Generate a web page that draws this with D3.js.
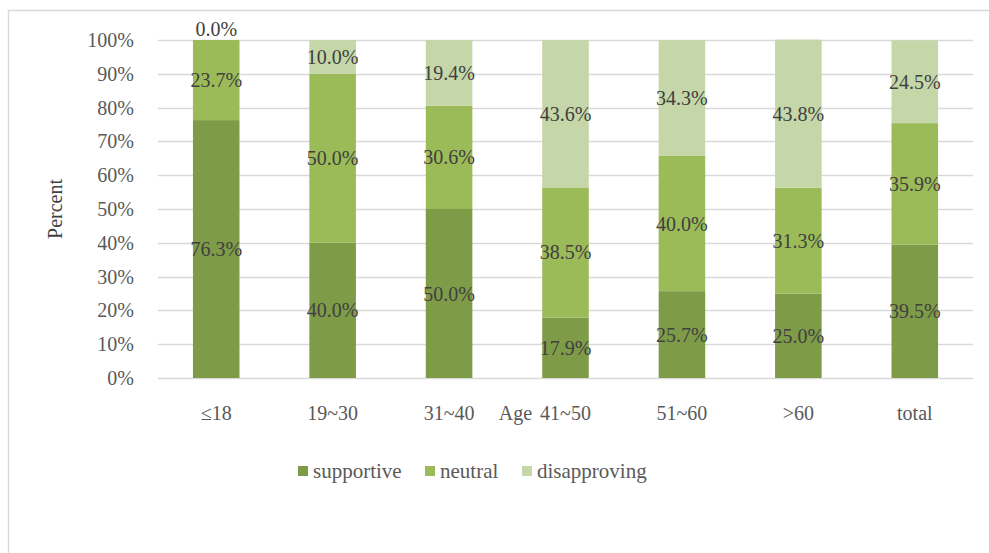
<!DOCTYPE html>
<html>
<head>
<meta charset="utf-8">
<script src="https://cdn.jsdelivr.net/npm/d3@7/dist/d3.min.js"></script>
<style>
  html, body { margin: 0; padding: 0; background: #fff; }
  svg { display: block; }
  svg text { font-family: "Liberation Serif", "Times New Roman", serif; }
</style>
</head>
<body>
<svg id="chart" width="989" height="553"></svg>
<script>
// Attitude by age group (percent of respondents)
const categories = ["\u226418", "19~30", "31~40", "41~50", "51~60", ">60", "total"];
const seriesNames = ["supportive", "neutral", "disapproving"];
const supportive   = [76.3, 40.0, 50.0, 17.9, 25.7, 25.0, 39.5];
const neutral      = [23.7, 50.0, 30.6, 38.5, 40.0, 31.3, 35.9];
const disapproving = [0.0, 10.0, 19.4, 43.6, 34.3, 43.8, 24.5];
const yTicks = [0, 10, 20, 30, 40, 50, 60, 70, 80, 90, 100];
const colors = ["#7e9b48", "#9bbb59", "#c5d7a8"];

const svg = d3.select("#chart");
const W = 989, H = 553;
const margin = { left: 158, right: 16, top: 40, bottom: 175 };
const plotW = W - margin.left - margin.right;
const plotH = H - margin.top - margin.bottom;
const FS = 20;

// outer chart frame (extends past the right and bottom edges)
svg.append("rect")
  .attr("x", 8.5).attr("y", 10.5)
  .attr("width", 1000).attr("height", 560)
  .attr("fill", "none").attr("stroke", "#d9d9d9").attr("stroke-width", 1.5);

const g = svg.append("g").attr("transform", `translate(${margin.left},${margin.top})`);

const x = d3.scaleBand().domain(categories).range([0, plotW]).paddingInner(0.6).paddingOuter(0.3);
const y = d3.scaleLinear().domain([0, 100]).range([plotH, 0]);

// gridlines
g.append("g").selectAll("line").data(yTicks).join("line")
  .attr("x1", 0).attr("x2", plotW)
  .attr("y1", d => Math.round(y(d)) + 0.5).attr("y2", d => Math.round(y(d)) + 0.5)
  .attr("stroke", "#d9d9d9").attr("stroke-width", 1.3);

// y axis labels
const yAxis = d3.axisLeft(y).tickValues(yTicks).tickFormat(d => d + "%").tickSize(0).tickPadding(24);
g.append("g").call(yAxis)
  .attr("font-family", null).attr("font-size", null)
  .call(a => a.select(".domain").remove())
  .selectAll("text")
  .attr("font-size", FS).attr("fill", "#595959");

// x axis labels
const xPad = 28;
const xAxis = d3.axisBottom(x).tickSize(0).tickPadding(xPad);
g.append("g").attr("transform", `translate(0,${plotH})`).call(xAxis)
  .attr("font-family", null).attr("font-size", null)
  .call(a => a.select(".domain").remove())
  .selectAll("text")
  .attr("font-size", FS).attr("fill", "#595959");

// x axis title
g.append("text")
  .attr("x", x("41~50") + x.bandwidth() / 2 - 50)
  .attr("y", plotH + xPad)
  .attr("dy", "0.71em")
  .attr("text-anchor", "middle")
  .attr("font-size", FS).attr("fill", "#595959")
  .text("Age");

// y axis title
svg.append("text")
  .attr("transform", `translate(62,${margin.top + plotH / 2}) rotate(-90)`)
  .attr("text-anchor", "middle")
  .attr("font-size", FS).attr("fill", "#404040")
  .text("Percent");

// stacked data
const rows = categories.map((c, i) => ({
  cat: c,
  supportive: supportive[i],
  neutral: neutral[i],
  disapproving: disapproving[i]
}));
const stacked = d3.stack().keys(seriesNames)(rows);

const layers = g.append("g").selectAll("g").data(stacked).join("g")
  .attr("fill", (d, i) => colors[i]);

layers.selectAll("rect").data(d => d).join("rect")
  .attr("x", d => x(d.data.cat))
  .attr("y", d => y(d[1]))
  .attr("width", x.bandwidth())
  .attr("height", d => y(d[0]) - y(d[1]));

// value labels
const labels = g.append("g");
stacked.forEach(layer => {
  layer.forEach(d => {
    const v = d.data[layer.key];
    let cy = y((d[0] + d[1]) / 2);
    if (v === 0) cy -= 11;
    labels.append("text")
      .attr("x", x(d.data.cat) + x.bandwidth() / 2)
      .attr("y", cy)
      .attr("dy", "0.35em")
      .attr("text-anchor", "middle")
      .attr("font-size", FS).attr("fill", "#404040")
      .text(v.toFixed(1) + "%");
  });
});

// legend
const legendX = [298, 425, 522];
const legend = svg.append("g");
seriesNames.forEach((name, i) => {
  legend.append("rect")
    .attr("x", legendX[i]).attr("y", 466)
    .attr("width", 10).attr("height", 10)
    .attr("fill", colors[i]);
  legend.append("text")
    .attr("x", legendX[i] + 15).attr("y", 471)
    .attr("dy", "0.35em")
    .attr("font-size", 21).attr("fill", "#595959")
    .text(name);
});
</script>
</body>
</html>
